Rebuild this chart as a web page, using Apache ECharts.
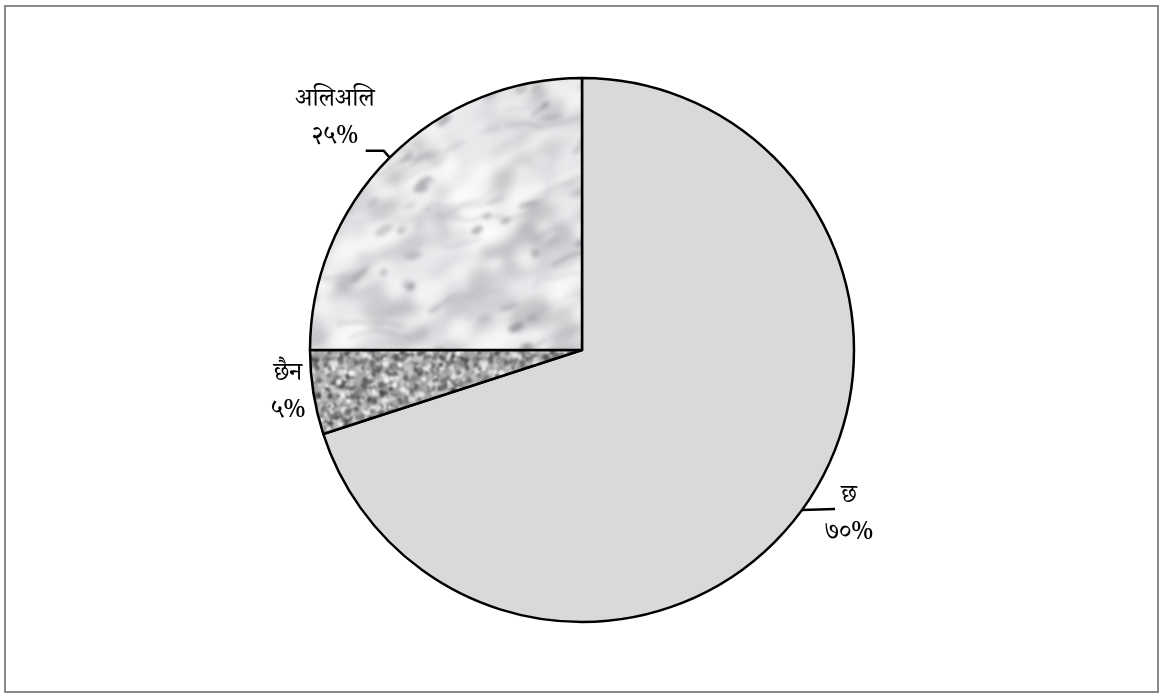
<!DOCTYPE html>
<html><head><meta charset="utf-8">
<script src="https://cdn.jsdelivr.net/npm/echarts@6/dist/echarts.min.js"></script>
<style>html,body{margin:0;padding:0;background:#fff}#c{width:1162px;height:693px}</style>
</head><body><div id="c"></div>
<script>
const categories = ['छ', 'छैन', 'अलिअलि'];
const values = [70, 5, 25];
const pctLabels = ['७०%', '५%', '२५%'];

function rng(seed){let s=seed>>>0;return function(){s=(s*1664525+1013904223)>>>0;return s/4294967296;};}
function mk(w,h){const c=document.createElement('canvas');c.width=w;c.height=h;return c;}

function seamless(src, N, blur){
  const big=mk(3*N,3*N),g=big.getContext('2d');
  for(let dx=0;dx<3;dx++)for(let dy=0;dy<3;dy++)g.drawImage(src,dx*N,dy*N);
  const big2=mk(3*N,3*N),g2=big2.getContext('2d');
  g2.filter='blur('+blur+'px)';g2.drawImage(big,0,0);
  const out=mk(N,N);out.getContext('2d').drawImage(big2,N,N,N,N,0,0,N,N);
  return out;
}
function wrapDraw(N,fn){for(const ox of [-N,0,N])for(const oy of [-N,0,N])fn(ox,oy);}

function marble(){
  const N=300,r=rng(7);
  const a=mk(N,N),ga=a.getContext('2d');
  ga.fillStyle='#e8e9eb';ga.fillRect(0,0,N,N);
  for(let i=0;i<150;i++){
    const v=165+Math.floor(r()*55),x=r()*N,y=r()*N,A=8+r()*26,B=4+r()*10,t=-0.7+r()*0.5,al=0.35+r()*0.35;
    ga.fillStyle='rgba('+v+','+v+','+(v+4)+','+al+')';
    wrapDraw(N,(ox,oy)=>{ga.beginPath();ga.ellipse(x+ox,y+oy,A,B,t,0,Math.PI*2);ga.fill();});
  }
  for(let i=0;i<90;i++){
    const v=246+Math.floor(r()*9),x=r()*N,y=r()*N,A=6+r()*20,B=4+r()*10;
    ga.fillStyle='rgba('+v+','+v+','+v+',0.75)';
    wrapDraw(N,(ox,oy)=>{ga.beginPath();ga.ellipse(x+ox,y+oy,A,B,-0.6,0,Math.PI*2);ga.fill();});
  }
  const base=seamless(a,N,5);
  const b=mk(N,N),gb=b.getContext('2d');
  for(let i=0;i<80;i++){
    const v=130+Math.floor(r()*70),x=r()*N,y=r()*N,A=3+r()*9,B=1.5+r()*3,t=-0.7+r()*0.6,al=0.4+r()*0.4;
    gb.fillStyle='rgba('+v+','+v+','+(v+5)+','+al+')';
    wrapDraw(N,(ox,oy)=>{gb.beginPath();gb.ellipse(x+ox,y+oy,A,B,t,0,Math.PI*2);gb.fill();});
  }
  for(let i=0;i<35;i++){
    const v=140+Math.floor(r()*60),pts=[];let x=r()*N,y=r()*N;pts.push([x,y]);
    for(let k=0;k<4;k++){x+=6+r()*18;y-=(r()*18-5);pts.push([x,y]);}
    gb.strokeStyle='rgba('+v+','+v+','+(v+5)+','+(0.3+r()*0.3)+')';gb.lineWidth=1+r()*2;
    wrapDraw(N,(ox,oy)=>{gb.beginPath();pts.forEach((p,k)=>k?gb.lineTo(p[0]+ox,p[1]+oy):gb.moveTo(p[0]+ox,p[1]+oy));gb.stroke();});
  }
  const det=seamless(b,N,2);
  const out=mk(N,N),go=out.getContext('2d');go.drawImage(base,0,0);go.drawImage(det,0,0);
  return out;
}
function granite(){
  const N=150,r=rng(11);
  const a=mk(N,N),g=a.getContext('2d');
  g.fillStyle='#a9a9a9';g.fillRect(0,0,N,N);
  for(let i=0;i<2600;i++){
    const v=Math.floor(70+r()*180),x=r()*N,y=r()*N,s=1.3+r()*2;
    g.fillStyle='rgb('+v+','+v+','+v+')';
    wrapDraw(N,(ox,oy)=>{g.beginPath();g.arc(x+ox,y+oy,s,0,Math.PI*2);g.fill();});
  }
  return seamless(a,N,0.8);
}

const CX=582, CY=350, R=272;
function edge(a){const t=a*Math.PI/180;return [CX+R*Math.cos(t), CY-R*Math.sin(t)];}

const chart=echarts.init(document.getElementById('c'));
const fills=[{color:'#d9d9d9'},{color:{image:granite(),repeat:'repeat'}},{color:{image:marble(),repeat:'repeat'}}];
const FONT="'Noto Serif Devanagari','Noto Sans Devanagari','Lohit Devanagari',serif";
chart.setOption({
  animation:false,
  graphic:[{type:'rect',shape:{x:5,y:6,width:1153,height:686},style:{fill:'none',stroke:'#898989',lineWidth:2},silent:true}],
  series:[{
    type:'pie',
    center:[CX,CY],
    radius:R,
    startAngle:90,
    clockwise:true,
    data:categories.map((n,i)=>({name:n,value:values[i],itemStyle:fills[i]})),
    itemStyle:{borderColor:'#000',borderWidth:2.5},
    label:{show:true,position:'outside',color:'#000',fontFamily:FONT,fontSize:25,lineHeight:37,
      formatter:p=>categories[p.dataIndex]+'\n'+pctLabels[p.dataIndex]},
    labelLine:{show:true,lineStyle:{color:'#000',width:2.5}},
    labelLayout:function(p){
      const i=p.dataIndex;
      if(i===0){const e=edge(-36);return {x:849,y:518,align:'center',verticalAlign:'middle',labelLinePoints:[e,[e[0]+33,e[1]-1],[e[0]+33,e[1]-1]]};}
      if(i===1){return {x:288,y:396,align:'center',verticalAlign:'middle',labelLinePoints:[[0,0],[0,0],[0,0]]};}
      const e=edge(135);return {x:335,y:122,align:'center',verticalAlign:'middle',labelLinePoints:[e,[e[0]-6,e[1]-7],[e[0]-24,e[1]-7]]};
    }
  }]
});
</script></body></html>
